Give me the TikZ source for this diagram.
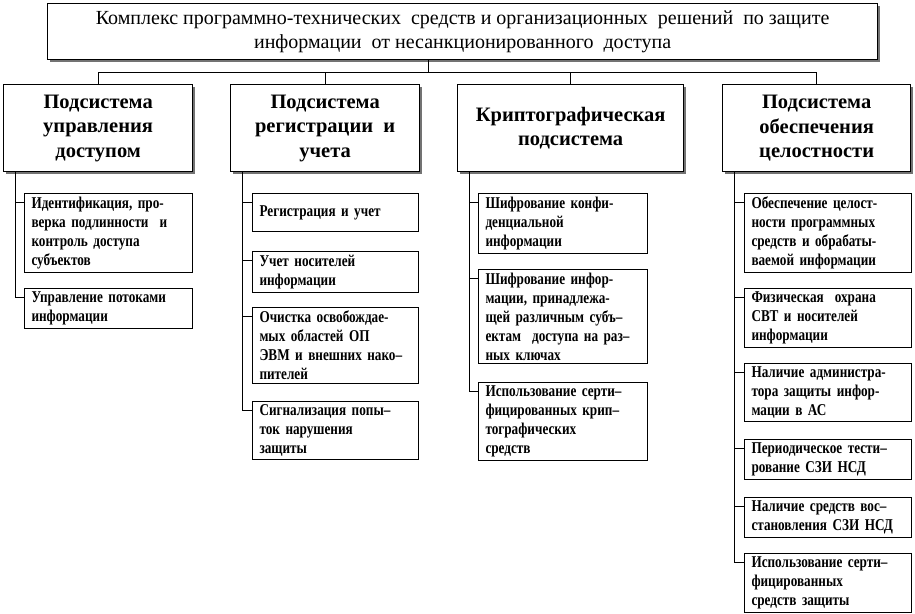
\documentclass[tikz,border=0pt]{standalone}
\usepackage{fontspec}
\setmainfont{Liberation Serif}
\newfontfamily\leaffont[FakeStretch=0.8,Ligatures=TeX]{Liberation Serif}
\usetikzlibrary{shadows}
\tikzset{
  topbox/.style={draw, line width=1.3pt, fill=white, anchor=north west, align=center,
    drop shadow={shadow xshift=2.5pt, shadow yshift=-2.5pt, fill=black!55, opacity=1},
    font=\fontsize{20}{23.5}\selectfont},
  subbox/.style={topbox, font=\bfseries\fontsize{20.5}{24.5}\selectfont},
  leaf/.style={draw, line width=1pt, fill=white, anchor=north west, align=left,
    inner xsep=7pt, text width=#1, font=\leaffont\bfseries\fontsize{16.5}{19}\selectfont},
  link/.style={line width=0.8pt}
}

\begin{document}
\begin{tikzpicture}[x=1pt,y=-1pt]
  \useasboundingbox (0,0) rectangle (915,613);
  \node[topbox, minimum width=830pt, minimum height=56pt] (root) at (47,3)
    {Комплекс программно-технических\ \ средств и организационных\ \ решений\ \ по защите\\
     информации\ \ от несанкционированного\ \ доступа};
  % subsystems
  \node[subbox, minimum width=189pt, minimum height=87pt] (ctrl) at (3,84)
    {Подсистема\\управления\\доступом};
  \node[subbox, minimum width=189pt, minimum height=87pt] (reg) at (230,84)
    {Подсистема\\регистрации\ \ и\\учета};
  \node[subbox, minimum width=226pt, minimum height=87pt] (crypt) at (457,84)
    {Криптографическая\\подсистема};
  \node[subbox, minimum width=188pt, minimum height=87pt] (integ) at (722,84)
    {Подсистема\\обеспечения\\целостности};
  \draw[link] ([xshift=-34pt]root.south) -- ++(0,12) coordinate (bus);
  \foreach \s in {ctrl,reg,crypt,integ}
    {\draw[link] (bus) -| (\s.north);}
  % access control
  \node[leaf=154pt, minimum height=76pt] (ident) at (24,193)
    {Идентификация, про-\\верка подлинности\ \ и\\контроль доступа\\субъектов};
  \node[leaf=154pt, minimum height=37pt] (flows) at (24,288)
    {Управление потоками\\информации};
  % registration
  \node[leaf=152pt, minimum height=38pt] (logging) at (252,193)
    {Регистрация и учет};
  \node[leaf=152pt, minimum height=37pt] (media) at (252,251)
    {Учет носителей\\информации};
  \node[leaf=152pt, minimum height=75pt] (clean) at (252,307)
    {Очистка освобождае-\\мых областей ОП\\ЭВМ и внешних нако--\\пителей};
  \node[leaf=152pt, minimum height=56pt] (alarm) at (252,401)
    {Сигнализация попы--\\ток нарушения\\защиты};
  % cryptography
  \node[leaf=155pt, minimum height=57pt] (enc) at (478,193)
    {Шифрование конфи-\\денциальной\\информации};
  \node[leaf=155pt, minimum height=94pt] (keys) at (478,269)
    {Шифрование инфор-\\мации, принадлежа-\\щей различным субъ--\\ектам\ \ доступа на раз--\\ных ключах};
  \node[leaf=155pt, minimum height=76pt] (certc) at (478,382)
    {Использование серти--\\фицированных крип--\\тографических\\средств};
  % integrity
  \node[leaf=153pt, minimum height=76pt] (soft) at (744,193)
    {Обеспечение целост-\\ности программных\\средств и обрабаты-\\ваемой информации};
  \node[leaf=153pt, minimum height=56pt] (guard) at (744,288)
    {Физическая\ \ охрана\\СВТ и носителей\\информации};
  \node[leaf=153pt, minimum height=57pt] (admin) at (744,363)
    {Наличие администра-\\тора защиты инфор-\\мации в АС};
  \node[leaf=153pt, minimum height=38pt] (test) at (744,439)
    {Периодическое тести--\\рование СЗИ НСД};
  \node[leaf=153pt, minimum height=37pt] (restore) at (744,497)
    {Наличие средств вос--\\становления СЗИ НСД};
  \node[leaf=153pt, minimum height=57pt] (certp) at (744,553)
    {Использование серти--\\фицированных\\средств защиты};
  % branches
  \foreach \c in {ident,flows}
    {\draw[link] ([xshift=12.5pt]ctrl.south west) |- ([yshift=-9pt]\c.north west);}
  \foreach \c in {logging,media,clean,alarm}
    {\draw[link] ([xshift=12.5pt]reg.south west) |- ([yshift=-9pt]\c.north west);}
  \foreach \c in {enc,keys,certc}
    {\draw[link] ([xshift=12.5pt]crypt.south west) |- ([yshift=-9pt]\c.north west);}
  \foreach \c in {soft,guard,admin,test,restore,certp}
    {\draw[link] ([xshift=12.5pt]integ.south west) |- ([yshift=-9pt]\c.north west);}
\end{tikzpicture}
\end{document}
